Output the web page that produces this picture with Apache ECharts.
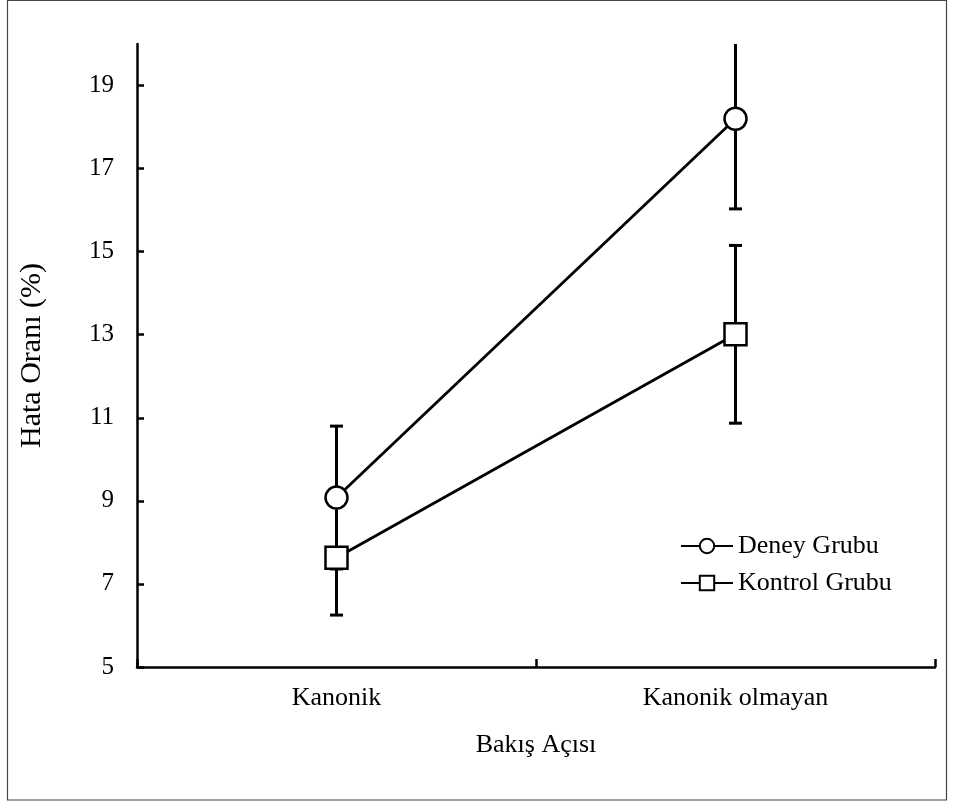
<!DOCTYPE html>
<html>
<head>
<meta charset="utf-8">
<style>html,body{margin:0;padding:0;background:#fff;}#c{width:954px;height:803px;}</style>
<script src="https://cdn.jsdelivr.net/npm/echarts@6/dist/echarts.min.js"></script>
</head>
<body>
<div id="c"></div>
<script>
const categories = ['Kanonik', 'Kanonik olmayan'];
const deneyMean = [9.08, 18.2];
const deneyErr = [1.72, 2.17];
const kontrolMean = [7.63, 13.01];
const kontrolErr = [1.38, 2.14];
const yTicks = [5, 7, 9, 11, 13, 15, 17, 19];

const FONT = 'Liberation Serif';
const chart = echarts.init(document.getElementById('c'));

function errData(mean, err) {
  return mean.map((m, i) => [i, m - err[i], m + err[i]]);
}
function errSeries(mean, err) {
  return {
    type: 'custom',
    clip: true,
    z: 1,
    silent: true,
    data: errData(mean, err),
    renderItem: function (params, api) {
      const x = api.value(0);
      const lo = api.coord([x, api.value(1)]);
      const hi = api.coord([x, api.value(2)]);
      const hw = 6.5;
      const style = { stroke: '#000', lineWidth: 3 };
      return {
        type: 'group',
        children: [
          { type: 'line', shape: { x1: lo[0], y1: lo[1], x2: hi[0], y2: hi[1] }, style: style },
          { type: 'line', shape: { x1: lo[0] - hw, y1: lo[1], x2: lo[0] + hw, y2: lo[1] }, style: style },
          { type: 'line', shape: { x1: hi[0] - hw, y1: hi[1], x2: hi[0] + hw, y2: hi[1] }, style: style }
        ]
      };
    }
  };
}

chart.setOption({
  animation: false,
  backgroundColor: '#fff',
  graphic: [{
    type: 'rect',
    shape: { x: 7.5, y: 0.5, width: 939, height: 799.5 },
    style: { fill: 'none', stroke: '#444', lineWidth: 1.2 },
    silent: true
  }],
  grid: { left: 137, right: 19, top: 44, bottom: 136 },
  legend: {
    orient: 'vertical',
    left: 680,
    top: 533,
    padding: 0,
    itemWidth: 52,
    itemHeight: 18,
    itemGap: 11,
    textStyle: { fontFamily: FONT, fontSize: 26, color: '#000' },
    data: ['Deney Grubu', 'Kontrol Grubu']
  },
  xAxis: {
    type: 'category',
    data: categories,
    boundaryGap: true,
    name: 'Bakış Açısı',
    nameLocation: 'middle',
    nameGap: 65,
    nameTextStyle: { fontFamily: FONT, fontSize: 26, color: '#000' },
    axisLine: { lineStyle: { color: '#000', width: 2.5 } },
    axisTick: { show: true, interval: 0, inside: true, length: 8, lineStyle: { color: '#000', width: 2.5 } },
    axisLabel: { fontFamily: FONT, fontSize: 26, color: '#000', margin: 18 },
    splitLine: { show: false }
  },
  yAxis: {
    type: 'value',
    min: 5,
    max: 20,
    name: 'Hata Oranı (%)',
    nameLocation: 'middle',
    nameGap: 90,
    nameTextStyle: { fontFamily: FONT, fontSize: 30, color: '#000' },
    axisLine: { show: true, lineStyle: { color: '#000', width: 2.5 } },
    axisTick: { show: true, inside: true, length: 7, customValues: yTicks, lineStyle: { color: '#000', width: 2.5 } },
    axisLabel: { fontFamily: FONT, fontSize: 25, color: '#000', margin: 23, padding: [4, 0, 0, 0], customValues: yTicks },
    splitLine: { show: false }
  },
  series: [
    errSeries(deneyMean, deneyErr),
    errSeries(kontrolMean, kontrolErr),
    {
      name: 'Deney Grubu',
      type: 'line',
      z: 3,
      data: deneyMean,
      symbol: 'circle',
      symbolSize: 22,
      lineStyle: { color: '#000', width: 2.8 },
      itemStyle: { color: '#fff', borderColor: '#000', borderWidth: 2.5 }
    },
    {
      name: 'Kontrol Grubu',
      type: 'line',
      z: 3,
      data: kontrolMean,
      symbol: 'rect',
      symbolSize: 22,
      lineStyle: { color: '#000', width: 2.8 },
      itemStyle: { color: '#fff', borderColor: '#000', borderWidth: 2.5 }
    }
  ]
});
</script>
</body>
</html>
